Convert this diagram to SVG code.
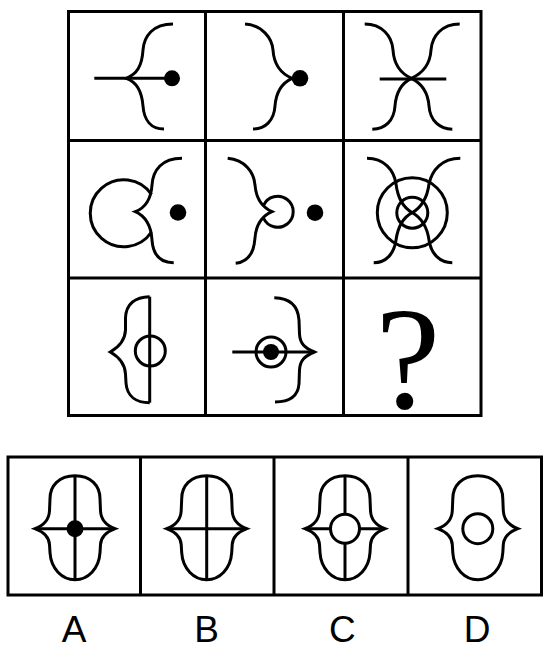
<svg xmlns="http://www.w3.org/2000/svg" width="551" height="650" viewBox="0 0 551 650">
<style>
.ln{fill:none;stroke:#000;stroke-width:3;stroke-linecap:butt}
.frame{fill:none;stroke:#000;stroke-width:3}
.dot{fill:#000}
.wc{fill:#fff;stroke:#000;stroke-width:3}
.lbl{font-family:"Liberation Sans",Arial,sans-serif;font-size:37px;fill:#000;text-anchor:middle}
</style>
<defs>
<path id="bell" d="M0,-53 C-16,-53 -25,-43 -25,-30 L-25.5,-18 C-26,-8 -32,-3 -40,0 C-32,3 -26,8 -25.5,16 L-25,24 C-24,40 -13,51 0,51 C13,51 24,40 25,24 L25.5,16 C26,8 32,3 40,0 C32,-3 26,-8 25.5,-18 L25,-30 C25,-43 16,-53 0,-53 Z"/>
</defs>
<rect width="551" height="650" fill="#fff"/>
<g id="grid">
<rect class="frame" x="68.5" y="11.5" width="412.5" height="404"/>
<line class="frame" x1="205.5" y1="11.5" x2="205.5" y2="415.5"/>
<line class="frame" x1="343.5" y1="11.5" x2="343.5" y2="415.5"/>
<line class="frame" x1="68.5" y1="140.5" x2="481" y2="140.5"/>
<line class="frame" x1="68.5" y1="278" x2="481" y2="278"/>
</g>
<g id="cell1">
<line class="ln" x1="94.3" y1="78.3" x2="172" y2="78.3"/>
<path class="ln" d="M173,24 C153,24 144,36 143,50 C142,66 137,74 126.3,78.3 C137,82 142,92 143,106 C144,120 151,129 164,129"/>
<circle class="dot" cx="172" cy="78.3" r="8"/>
</g>
<g id="cell2">
<path class="ln" d="M245,24 C262,25 272,38 273,50 C274,66 282,74 292,78.3 C282,83 276,92 275,106 C274,121 265,129 253,129"/>
<circle class="dot" cx="300" cy="78.3" r="8.3"/>
</g>
<g id="cell3">
<path class="ln" d="M364.7,24 C382,24 392,36 393,50 C394,66 402,74 411.3,78.3 C402,83 396,92 395,106 C394,121 385,129 372.3,129.3"/>
<path class="ln" d="M459.7,24 C442,24 432,36 431,50 C430,66 421,74 411.3,78.3 C421,83 428,92 429,106 C430,121 440,129 452.3,129.3"/>
<line class="ln" x1="379.7" y1="79" x2="446.3" y2="79"/>
</g>
<g id="cell4">
<path class="ln" d="M182,158.3 C162,158.3 153,170 152,185 C151,200 145,208 135.3,211.7 C145,216 151,224 152,240 C153,255 160,262.7 173.7,262.7"/>
<path class="ln" d="M151.5,194.5 A33.5,33.5 0 1 0 151.5,232"/>
<circle class="dot" cx="178" cy="212.5" r="8.3"/>
</g>
<g id="cell5">
<path class="ln" d="M227.7,158.3 C245,160 254,172 255,185 C256,198 262,207 272,211.7 C262,216 256,225 255,238 C254,252 248,262 235.7,263.3"/>
<path class="ln" d="M263.5,205.5 A15.5,15.5 0 1 1 263.5,218"/>
<circle class="dot" cx="315" cy="212.7" r="8.3"/>
</g>
<g id="cell6">
<circle class="ln" cx="412.3" cy="212.7" r="35"/>
<circle class="ln" cx="412.3" cy="212.7" r="15.5"/>
<path class="ln" d="M367,158.3 C384,158.3 394,170 396,184 C398,200 404,208 412.3,212.7 C404,217 398,226 396,240 C394,254 386,262.7 373.7,262.7"/>
<path class="ln" d="M460.3,158.3 C442,158.3 432,170 429,184 C427,200 420,208 412.3,212.7 C420,217 427,226 429,240 C431,254 440,262.7 452.3,262.7"/>
</g>
<g id="cell7">
<line class="ln" x1="149.7" y1="296.7" x2="149.7" y2="402.7"/>
<path class="ln" d="M149.7,296.7 C135,297 126,304 125.5,318 L125.5,330 C125,341 119,347 110.3,352 C119,357 125,363 125.5,374 L126,383 C127,397 137,402.7 149.7,402.7"/>
<circle class="ln" cx="150.3" cy="351" r="15"/>
</g>
<g id="cell8">
<line class="ln" x1="232.3" y1="352" x2="314.3" y2="352"/>
<path class="ln" d="M274.3,297.7 C290,298 298,306 299,320 L299.5,334 C300,344 305,348 314.3,352 C305,356 300,360 299.5,370 L299,384 C298,396 290,402 275,402"/>
<circle class="ln" cx="271" cy="352" r="15"/>
<circle class="dot" cx="271" cy="352" r="8"/>
</g>
<g id="cell9">
<text x="408" y="407.5" style="font-family:'Liberation Serif','Times New Roman',serif;font-size:146px;text-anchor:middle">?</text>
</g>
<g id="options">
<rect class="frame" x="8" y="457" width="533.5" height="138"/>
<line class="frame" x1="140.5" y1="457" x2="140.5" y2="595"/>
<line class="frame" x1="274" y1="457" x2="274" y2="595"/>
<line class="frame" x1="408" y1="457" x2="408" y2="595"/>
</g>
<g id="optA" transform="translate(75,528.7)">
<use href="#bell" class="ln"/>
<line class="ln" x1="0" y1="-53" x2="0" y2="51"/>
<line class="ln" x1="-40" y1="0" x2="40" y2="0"/>
<circle class="dot" cx="0" cy="0" r="8.5"/>
</g>
<g id="optB" transform="translate(206.7,528.7)">
<use href="#bell" class="ln"/>
<line class="ln" x1="0" y1="-53" x2="0" y2="51"/>
<line class="ln" x1="-40" y1="0" x2="40" y2="0"/>
</g>
<g id="optC" transform="translate(345,528.7)">
<use href="#bell" class="ln"/>
<line class="ln" x1="0" y1="-53" x2="0" y2="51"/>
<line class="ln" x1="-40" y1="0" x2="40" y2="0"/>
<circle class="wc" cx="0" cy="0" r="14.5"/>
</g>
<g id="optD" transform="translate(477.8,528.7)">
<use href="#bell" class="ln"/>
<circle class="ln" cx="0" cy="0" r="15"/>
</g>
<g id="labels">
<text class="lbl" x="74" y="642">A</text>
<text class="lbl" x="206.6" y="642">B</text>
<text class="lbl" x="342.4" y="642">C</text>
<text class="lbl" x="477" y="642">D</text>
</g>
</svg>
